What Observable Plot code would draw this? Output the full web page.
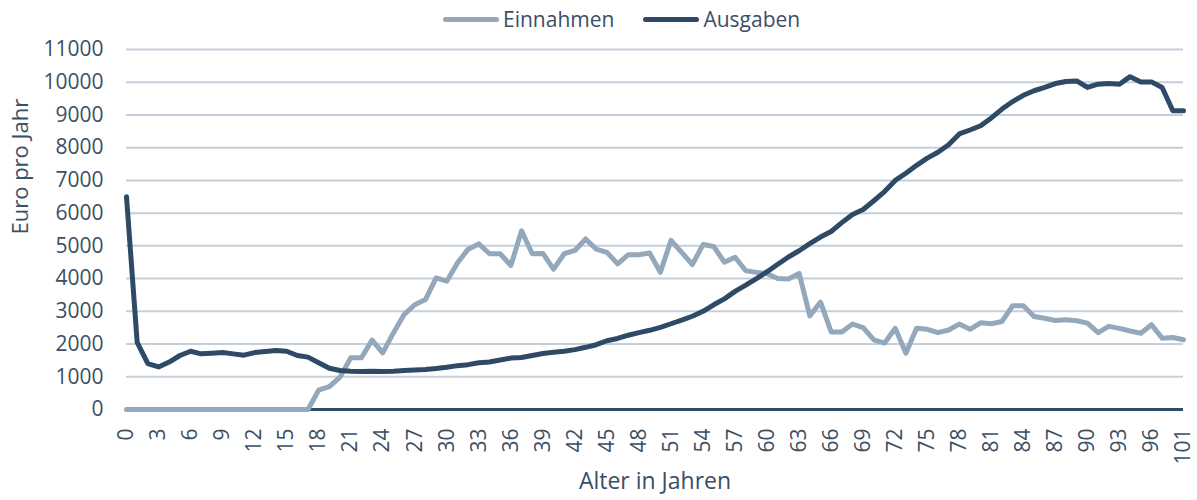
<!DOCTYPE html>
<html>
<head>
<meta charset="utf-8">
<script src="https://cdn.jsdelivr.net/npm/d3@7"></script>
<script src="https://cdn.jsdelivr.net/npm/@observablehq/plot@0.6"></script>
<style>
  body { margin: 0; background: #fff; font-family: "Open Sans", sans-serif; }
  #legend { height: 32px; padding-top: 6px; display: flex; align-items: center; padding-left: 443px; font-size: 21px; line-height: 26px; color: #3b4e64; box-sizing: border-box; }
  .item { display: flex; align-items: center; }
  .sw { width: 56px; height: 5px; border-radius: 3px; margin-right: 4px; }
  #chart svg { overflow: visible; display: block; }
</style>
</head>
<body>
<div id="legend"></div>
<div id="chart"></div>
<script>
// Category labels (age in years) – note: the source jumps from 98 to 101
const ages = [0,1,2,3,4,5,6,7,8,9,10,11,12,13,14,15,16,17,18,19,20,21,22,23,24,25,26,27,28,29,
  30,31,32,33,34,35,36,37,38,39,40,41,42,43,44,45,46,47,48,49,50,51,52,53,54,55,56,57,58,59,
  60,61,62,63,64,65,66,67,68,69,70,71,72,73,74,75,76,77,78,79,80,81,82,83,84,85,86,87,88,89,
  90,91,92,93,94,95,96,97,98,101];

const einnahmen = [0,0,0,0,0,0,0,0,0,0,0,0,0,0,0,0,0,0,590,700,
  990,1580,1580,2120,1730,2340,2900,3200,3360,4020,
  3920,4480,4900,5060,4760,4760,4400,5460,4760,4770,
  4290,4760,4860,5210,4900,4800,4450,4730,4730,4780,
  4190,5170,4800,4430,5040,4980,4500,4650,4240,4190,
  4150,4000,3990,4160,2860,3280,2370,2370,2610,2500,
  2130,2030,2480,1720,2480,2450,2350,2430,2610,2450,
  2650,2620,2690,3170,3170,2840,2790,2720,2740,2710,
  2640,2350,2540,2480,2400,2330,2590,2180,2200,2130];

const ausgaben = [6500,2050,1400,1300,1450,1650,1780,1700,1720,1740,
  1700,1660,1740,1770,1800,1780,1650,1600,1430,1260,
  1190,1170,1160,1170,1160,1170,1190,1210,1220,1250,
  1290,1340,1370,1430,1450,1510,1570,1590,1650,1710,
  1750,1780,1830,1900,1980,2100,2170,2270,2350,2420,
  2510,2620,2730,2850,3000,3200,3380,3610,3800,4000,
  4210,4440,4660,4850,5070,5270,5440,5710,5960,6110,
  6380,6660,7000,7220,7460,7680,7860,8090,8420,8540,
  8670,8910,9180,9410,9600,9740,9840,9960,10020,10040,
  9840,9940,9960,9940,10170,10010,10010,9840,9130,9130];

const xTicks = [0,3,6,9,12,15,18,21,24,27,30,33,36,39,42,45,48,51,54,57,60,63,66,69,72,75,78,81,84,87,90,93,96,101];
const yTicks = [0,1000,2000,3000,4000,5000,6000,7000,8000,9000,10000,11000];

const seriesNames = ["Einnahmen", "Ausgaben"];
const colors = ["#93a8bb", "#2f4a66"];
const textColor = "#3b4e64";
const gridColor = "#c4cfdb";

const table = ages.map((a, i) => ({age: a, einnahmen: einnahmen[i], ausgaben: ausgaben[i]}));

// Legend
const legend = document.getElementById("legend");
seriesNames.forEach((name, i) => {
  const item = document.createElement("div");
  item.className = "item";
  if (i > 0) item.style.marginLeft = "29px";
  const sw = document.createElement("span");
  sw.className = "sw";
  sw.style.background = colors[i];
  const t = document.createElement("span");
  t.textContent = name;
  item.appendChild(sw);
  item.appendChild(t);
  legend.appendChild(item);
});

const chart = Plot.plot({
  width: 1197,
  height: 468,
  marginLeft: 126,
  marginRight: 14,
  marginTop: 17,
  marginBottom: 91,
  x: {type: "point", domain: ages, padding: 0},
  y: {domain: [0, 11000]},
  style: {fontFamily: "'Open Sans', sans-serif", fontSize: "21px", color: textColor, background: "#fff", overflow: "visible"},
  marks: [
    Plot.gridY(yTicks, {stroke: gridColor, strokeOpacity: 1, strokeWidth: 2}),
    Plot.axisY(yTicks, {tickSize: 0, tickPadding: 23, label: null, fontSize: 21, tickFormat: d => String(d)}),
    Plot.axisX(xTicks, {tickSize: 0, tickRotate: -90, tickPadding: 19, label: null, fontSize: 21, tickFormat: d => String(d)}),
    Plot.ruleY([0], {stroke: colors[1], strokeWidth: 3}),
    Plot.line(table, {x: "age", y: "einnahmen", stroke: colors[0], strokeWidth: 5, strokeLinejoin: "round", strokeLinecap: "round"}),
    Plot.line(table, {x: "age", y: "ausgaben", stroke: colors[1], strokeWidth: 5, strokeLinejoin: "round", strokeLinecap: "round"}),
    Plot.text(["Euro pro Jahr"], {text: d => d, frameAnchor: "left", dx: -106, dy: 5, rotate: -90, fontSize: 22, fill: textColor}),
    Plot.text(["Alter in Jahren"], {text: d => d, frameAnchor: "bottom", dy: 79, fontSize: 23, fill: textColor})
  ]
});
document.getElementById("chart").appendChild(chart);
</script>
</body>
</html>
